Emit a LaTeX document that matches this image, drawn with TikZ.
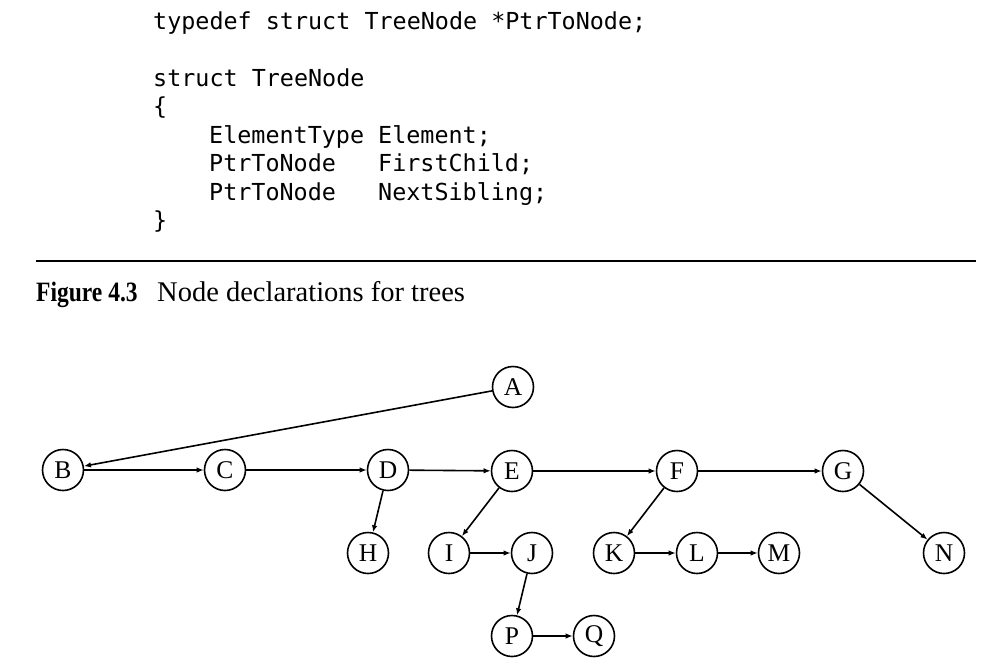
\documentclass[tikz,border=0pt]{standalone}
\usepackage{fontspec}
\setmainfont{Liberation Serif}
\setmonofont{DejaVu Sans Mono}
\usetikzlibrary{arrows.meta}

\begin{document}
\begin{tikzpicture}[x=1pt, y=-1pt,
    treenode/.style={draw, circle, line width=1.6pt, minimum size=41pt, inner sep=0pt,
        font=\fontsize{25.5}{25.5}\selectfont},
    ptr/.style={line width=1.6pt, -{Latex[length=7pt,width=5.5pt]}},
    codeline/.style={anchor=base west, inner sep=0pt,
        font=\ttfamily\fontsize{23.4}{28}\selectfont}]
    \useasboundingbox (0,0) rectangle (986,667);

    % Code of the declarations
    \node[codeline] (typedefline) at (153,29) {typedef struct TreeNode *PtrToNode;};
    \node[codeline] (structline) at (153,86) {struct TreeNode};
    \node[codeline] (openbrace) at (153,114.5) {\{};
    \node[codeline] (elemtype) at (209,143) {ElementType};
    \node[codeline] (elemname) at (378,143) {Element;};
    \node[codeline] (childtype) at (209,171.5) {PtrToNode};
    \node[codeline] (childname) at (378,171.5) {FirstChild;};
    \node[codeline] (sibtype) at (209,200) {PtrToNode};
    \node[codeline] (sibname) at (378,200) {NextSibling;};
    \node[codeline] (closebrace) at (153,228.5) {\}};

    % Rule and caption
    \draw[line width=1.8pt] (36,261) -- (976,261);
    \node[anchor=base west, inner sep=0pt] (figlabel) at (36,301)
        {\fontsize{28}{28}\selectfont\scalebox{0.84}[1]{\bfseries Figure 4.3}};
    \node[anchor=base west, inner sep=0pt] (figtext) at (157,301)
        {\fontsize{28.5}{28.5}\selectfont Node declarations for trees};

    % Tree nodes
    \foreach \name/\x/\y in {A/513/387, B/63/470, C/225/470, D/388/470, E/512/471,
        F/677/471, G/843/471, H/368/553, I/449/553, J/532/553, K/614/553,
        L/697/553, M/779/553, N/944/553, P/512/636, Q/594/636}
        \node[treenode] (\name) at (\x,\y) {\name};

    % First child and next sibling pointers
    \foreach \from/\to in {A/B, B/C, C/D, D/E, E/F, F/G, D/H, E/I, I/J,
        J/P, P/Q, F/K, K/L, L/M, G/N}
        \draw[ptr] (\from) -- (\to);
\end{tikzpicture}
\end{document}
